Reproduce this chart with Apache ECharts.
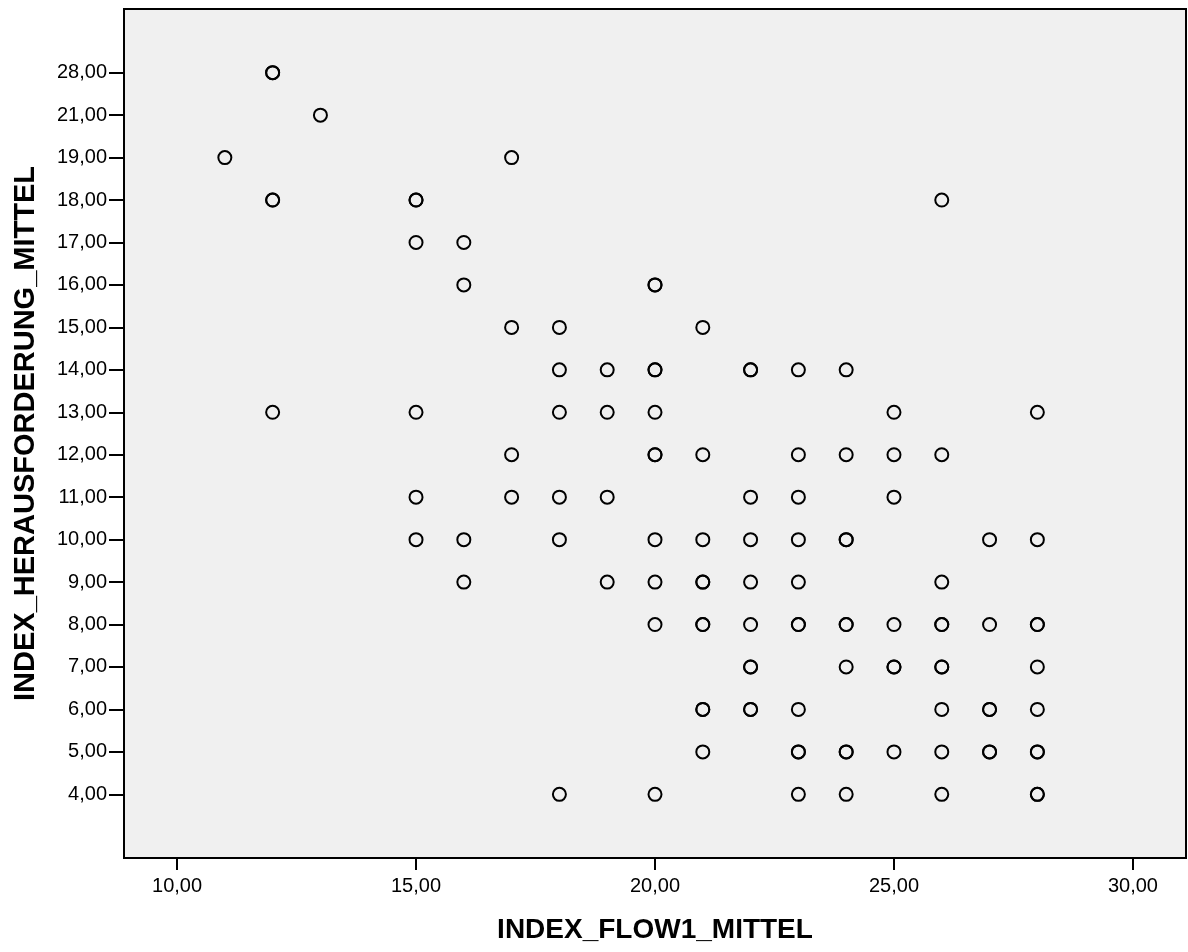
<!DOCTYPE html>
<html>
<head>
<meta charset="utf-8">
<script src="https://cdn.jsdelivr.net/npm/echarts@6/dist/echarts.min.js"></script>
<style>
  html, body { margin: 0; padding: 0; background: #fff; }
  #chart { width: 1188px; height: 952px; }
</style>
</head>
<body>
<div id="chart"></div>
<script>
// y levels as SPSS shows them (ordinal, evenly spaced)
var yLevels = [4, 5, 6, 7, 8, 9, 10, 11, 12, 13, 14, 15, 16, 17, 18, 19, 21, 28];
var xTicks = [10, 15, 20, 25, 30];

// points [flow, herausforderung]; repeated entries = overlapping cases
var pts28 = [[12, 28], [12, 28]];
var pts21 = [[13, 21]];
var pts19 = [[11, 19], [17, 19]];
var pts18 = [[12, 18], [12, 18], [15, 18], [15, 18], [26, 18]];
var pts17 = [[15, 17], [16, 17]];
var pts16 = [[16, 16], [20, 16], [20, 16]];
var pts15 = [[17, 15], [18, 15], [21, 15]];
var pts14 = [[18, 14], [19, 14], [20, 14], [20, 14], [22, 14], [22, 14], [23, 14], [24, 14]];
var pts13 = [[12, 13], [15, 13], [18, 13], [19, 13], [20, 13], [25, 13], [28, 13]];
var pts12 = [[17, 12], [20, 12], [20, 12], [21, 12], [23, 12], [24, 12], [25, 12], [26, 12]];
var pts11 = [[15, 11], [17, 11], [18, 11], [19, 11], [22, 11], [23, 11], [25, 11]];
var pts10 = [[15, 10], [16, 10], [18, 10], [20, 10], [21, 10], [22, 10], [23, 10], [24, 10], [24, 10], [27, 10], [28, 10]];
var pts9 = [[16, 9], [19, 9], [20, 9], [21, 9], [21, 9], [22, 9], [23, 9], [26, 9]];
var pts8 = [[20, 8], [21, 8], [21, 8], [22, 8], [23, 8], [23, 8], [24, 8], [24, 8], [25, 8], [26, 8], [26, 8], [27, 8], [28, 8], [28, 8]];
var pts7 = [[22, 7], [22, 7], [24, 7], [25, 7], [25, 7], [26, 7], [26, 7], [28, 7]];
var pts6 = [[21, 6], [21, 6], [22, 6], [22, 6], [23, 6], [26, 6], [27, 6], [27, 6], [28, 6]];
var pts5 = [[21, 5], [23, 5], [23, 5], [24, 5], [24, 5], [25, 5], [26, 5], [27, 5], [27, 5], [28, 5], [28, 5]];
var pts4 = [[18, 4], [20, 4], [23, 4], [24, 4], [26, 4], [28, 4], [28, 4]];

function fmt(v) { return v.toFixed(2).replace('.', ','); }

// one empty category at each end gives the SPSS padding
var yCategories = [''].concat(yLevels.map(fmt), ['']);

var allPts = [].concat(pts28, pts21, pts19, pts18, pts17, pts16, pts15, pts14,
  pts13, pts12, pts11, pts10, pts9, pts8, pts7, pts6, pts5, pts4);
var data = allPts.map(function (p) { return [p[0], fmt(p[1])]; });

var font = 'Liberation Sans, Arial, sans-serif';

var chart = echarts.init(document.getElementById('chart'));
var option = {
  animation: false,
  grid: {
    left: 124, right: 2, top: 9, bottom: 94,
    show: true,
    backgroundColor: '#f0f0f0',
    borderColor: '#000',
    borderWidth: 2
  },
  xAxis: {
    type: 'value',
    min: 8.89,
    max: 31.11,
    name: 'INDEX_FLOW1_MITTEL',
    nameLocation: 'middle',
    nameGap: 58,
    nameTextStyle: { fontFamily: font, fontSize: 28, fontWeight: 'bold', color: '#000' },
    axisLine: { show: false },
    splitLine: { show: false },
    axisTick: { show: true, customValues: xTicks, length: 12, lineStyle: { color: '#000', width: 2 } },
    axisLabel: {
      customValues: xTicks,
      formatter: fmt,
      margin: 18,
      fontFamily: font, fontSize: 20, color: '#000'
    }
  },
  yAxis: {
    type: 'category',
    data: yCategories,
    boundaryGap: true,
    name: 'INDEX_HERAUSFORDERUNG_MITTEL',
    nameLocation: 'middle',
    nameGap: 84,
    nameTextStyle: { fontFamily: font, fontSize: 29, fontWeight: 'bold', color: '#000' },
    axisLine: { show: false },
    splitLine: { show: false },
    axisTick: {
      show: true,
      alignWithLabel: true,
      interval: function (i, v) { return v !== ''; },
      length: 15,
      lineStyle: { color: '#000', width: 2 }
    },
    axisLabel: {
      interval: 0,
      margin: 17,
      fontFamily: font, fontSize: 20, color: '#000'
    }
  },
  series: [{
    type: 'scatter',
    data: data,
    symbol: 'circle',
    symbolSize: 13,
    itemStyle: { color: 'rgba(0,0,0,0)', borderColor: '#000', borderWidth: 2, opacity: 1 }
  }]
};
chart.setOption(option);
</script>
</body>
</html>
